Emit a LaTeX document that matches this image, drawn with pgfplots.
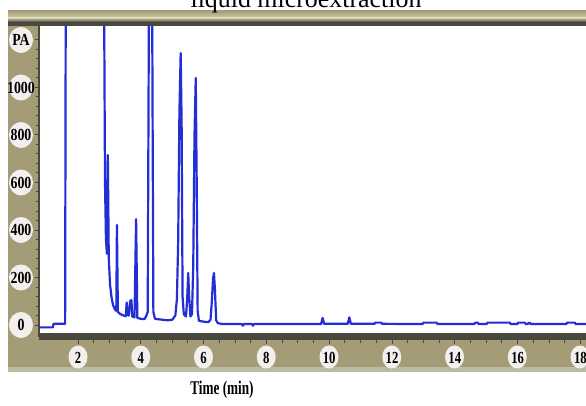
\documentclass[border=0pt]{standalone}
\usepackage{fontspec}
\setmainfont{Liberation Serif}
\usepackage{pgfplots}
\pgfplotsset{compat=1.18}
\definecolor{khaki}{RGB}{164,156,118}
\definecolor{khakilight}{RGB}{205,199,168}
\definecolor{khakiedge}{RGB}{188,186,162}
\definecolor{rulerdark}{RGB}{72,72,62}
\definecolor{bubble}{RGB}{243,239,239}
\definecolor{traceblue}{RGB}{36,46,214}
\begin{document}
\begin{tikzpicture}[x=1bp,y=1bp]
\useasboundingbox (0,0) rectangle (586,405);
\clip (0,0) rectangle (586,405);
% frame
\fill[khaki] (8,33) rectangle (586,394.5);
\fill[khakiedge] (8,33) rectangle (586,38);
% label bubbles
\foreach \yy in {80,127.5,175,222.5,270,317.5,365}
  \fill[bubble] (21,\yy) ellipse [x radius=12, y radius=13];
\foreach \xx in {78,140.75,203.5,266.25,329,391.75,454.5,517.25,580}
  \fill[bubble] (\xx,48) ellipse [x radius=9.5, y radius=11.5];
\begin{axis}[
  scale only axis,
  width=547bp, height=310.5bp,
  at={(39bp,68.5bp)}, anchor=south west,
  xmin=0.758, xmax=18.178,
  ymin=-48.4, ymax=1258.9,
  axis x line*=bottom, axis y line*=left,
  x axis line style={line width=7bp, draw=rulerdark, -},
  y axis line style={line width=2bp, draw=rulerdark, -},
  axis background/.style={fill=white},
  tick align=outside,
  major tick length=4bp, minor tick length=3bp,
  every tick/.style={draw=rulerdark, line width=1bp},
  xtick style={yshift=-3.5bp},
  xtick={2,4,...,18}, minor x tick num=3,
  ytick={0,200,400,600,800,1000,1200},
  yticklabels={0,200,400,600,800,1000,PA},
  minor y tick num=4,
  /pgf/number format/assume math mode=true,
  ticklabel style={font=\fontsize{17}{17}\selectfont\bfseries, inner sep=0pt},
  yticklabel style={anchor=center, xshift=-14bp, xscale=0.82},
  xticklabel style={anchor=center, yshift=-17bp, xscale=0.75},
  xlabel={Time (min)},
  xlabel style={at={(axis description cs:0.3346,-0.1878)}, anchor=base,
    font=\fontsize{19.5}{19.5}\selectfont\bfseries, xscale=0.68},
]
\addplot[traceblue, line width=2.2bp, line join=round] coordinates {
(0.758,-10) (1.20,-10) (1.22,5) (1.59,5) (1.61,1400) (2.83,1400)
(2.86,600) (2.89,360) (2.92,300) (2.95,716) (2.98,280) (3.02,170)
(3.07,115) (3.12,82) (3.18,65) (3.22,60) (3.24,421) (3.27,55)
(3.35,46) (3.45,40) (3.52,37) (3.55,95) (3.58,42) (3.62,40)
(3.66,100) (3.70,105) (3.73,36) (3.80,32) (3.85,446) (3.89,30)
(4.00,26) (4.12,25) (4.18,40) (4.22,55) (4.26,1400) (4.36,1400)
(4.40,55) (4.45,26) (4.70,22) (4.85,20) (5.00,22) (5.10,40)
(5.15,110) (5.19,350) (5.23,900) (5.27,1145) (5.30,850) (5.33,120)
(5.37,45) (5.44,36) (5.48,120) (5.51,219) (5.54,120) (5.58,36)
(5.63,45) (5.67,250) (5.71,800) (5.75,1040) (5.78,600) (5.81,60)
(5.85,18) (6.00,14) (6.15,12) (6.22,22) (6.26,95) (6.30,195)
(6.33,219) (6.36,150) (6.40,20) (6.45,8) (6.60,4)
(7.22,4) (7.25,-3) (7.28,4) (7.54,4) (7.57,-3) (7.60,4)
(9.74,4) (9.79,30) (9.84,5) (10.59,5) (10.64,32) (10.69,5)
(11.44,5) (11.47,10) (11.66,10) (11.69,5)
(12.97,4) (13.00,10) (13.42,10) (13.45,4)
(14.62,4) (14.65,10) (14.73,10) (14.76,4)
(15.01,4) (15.04,10) (15.75,10) (15.78,4)
(15.99,4) (16.02,10) (16.23,10) (16.26,4)
(16.32,4) (16.35,9) (16.39,9) (16.42,4)
(17.55,4) (17.58,10) (17.82,10) (17.85,4) (18.18,4)
};
\end{axis}
% top bar
\shade[top color=khaki, bottom color=khakilight] (8,387) rectangle (586,394.5);
\shade[top color=khakilight, bottom color=rulerdark] (8,383) rectangle (586,387);
\fill[rulerdark] (8,379) rectangle (586,383);
% title, cut by the page edge as in the source
\node[anchor=base, inner sep=0pt] at (306,397)
  {\fontsize{26}{26}\selectfont liquid microextraction};
\end{tikzpicture}
\end{document}
